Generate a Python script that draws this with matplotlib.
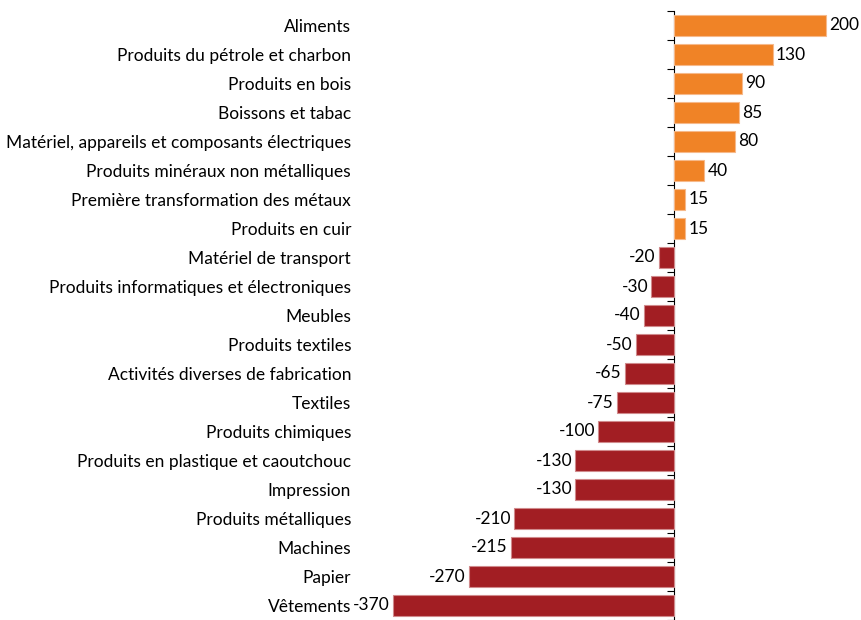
import numpy as np
import matplotlib.pyplot as plt

# donnees (haut -> bas)
categories = ["Aliments", "Produits du pétrole et charbon", "Produits en bois",
              "Boissons et tabac", "Matériel, appareils et composants électriques",
              "Produits minéraux non métalliques", "Première transformation des métaux",
              "Produits en cuir", "Matériel de transport",
              "Produits informatiques et électroniques", "Meubles", "Produits textiles",
              "Activités diverses de fabrication", "Textiles", "Produits chimiques",
              "Produits en plastique et caoutchouc", "Impression",
              "Produits métalliques", "Machines", "Papier", "Vêtements"]
valeurs = [200, 130, 90, 85, 80, 40, 15, 15, -20, -30, -40, -50, -65, -75,
           -100, -130, -130, -210, -215, -270, -370]

plt.rcParams['font.family'] = ['Lato', 'DejaVu Sans']
fs = 12.5

orange = '#F08326'
rouge = '#A21E23'

fig = plt.figure(figsize=(8.61, 6.2), dpi=100)
ax = fig.add_axes([365/861, 0, 1 - 365/861, 1 - 11/620])

n = len(categories)
y = np.arange(n)
couleurs = [orange if v > 0 else rouge for v in valeurs]
bords = ['#F6B98A' if v > 0 else '#D08A8C' for v in valeurs]
ax.barh(y, valeurs, height=0.72, color=couleurs, edgecolor=bords, linewidth=0.8)

xmin, xmax = -406.6, 246
ax.set_xlim(xmin, xmax)
ax.set_ylim(n - 0.5, -0.5)

for yi, v in zip(y, valeurs):
    if v > 0:
        ax.text(v + 4, yi, str(v), va='center', ha='left', fontsize=fs)
    else:
        ax.text(v - 4, yi, str(v), va='center', ha='right', fontsize=fs)

ax.set_yticks(y)
ax.set_yticklabels(categories, fontsize=fs)
ax.tick_params(axis='y', length=0, pad=10)
ax.set_xticks([])
for s in ax.spines.values():
    s.set_visible(False)

# axe vertical a zero avec graduations entre categories
sec = ax.secondary_yaxis((0 - xmin) / (xmax - xmin))
sec.set_yticks(np.arange(n + 1) - 0.5)
sec.set_yticklabels([])
sec.tick_params(axis='y', direction='out', length=5, width=0.8, color='black')
sec.spines['right'].set_color('black')
sec.spines['right'].set_linewidth(0.8)
sec.yaxis.set_ticks_position('left')

fig.savefig('out.png', dpi=100)
